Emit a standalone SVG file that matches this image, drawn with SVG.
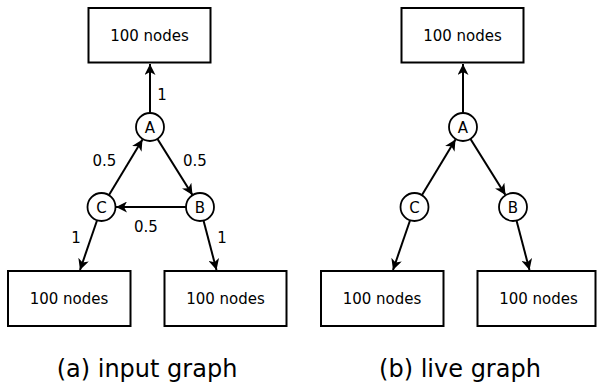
<svg xmlns="http://www.w3.org/2000/svg" width="597" height="384" viewBox="0 0 597 384">
<style>
.box{fill:#fff;stroke:#000;stroke-width:2}
.node{fill:#fff;stroke:#000;stroke-width:1.8}
.edge{fill:none;stroke:#000;stroke-width:2;marker-end:url(#arr)}
text{font-family:"DejaVu Sans",Verdana,sans-serif;fill:#000}
.t{font-size:15px;text-anchor:middle}
.cap{font-size:24px;text-anchor:middle}
</style>
<defs>
<marker id="arr" markerWidth="13" markerHeight="11" refX="11" refY="5.5" orient="auto" markerUnits="userSpaceOnUse">
<path d="M0,0 L11,5.5 L0,11 L3,5.5 Z" fill="#000"/>
</marker>
</defs>
<g id="connectors">
<line class="edge" x1="150" y1="113" x2="150" y2="64"/>
<line class="edge" x1="109" y1="195" x2="142.5" y2="139.5"/>
<line class="edge" x1="157.5" y1="139" x2="192.5" y2="195"/>
<line class="edge" x1="186" y1="207" x2="116" y2="207"/>
<line class="edge" x1="97" y1="220.5" x2="80" y2="270"/>
<line class="edge" x1="203.5" y1="220.5" x2="216.5" y2="270"/>
<line class="edge" x1="463" y1="113" x2="463" y2="64"/>
<line class="edge" x1="422" y1="195" x2="455.5" y2="139.5"/>
<line class="edge" x1="470.5" y1="139" x2="505.5" y2="195"/>
<line class="edge" x1="410" y1="220.5" x2="393" y2="270"/>
<line class="edge" x1="516.5" y1="220.5" x2="529.5" y2="270"/>
</g>
<g id="labels">
<text class="t" x="162" y="100">1</text>
<text class="t" x="104.5" y="166">0.5</text>
<text class="t" x="195" y="166">0.5</text>
<text class="t" x="146" y="232">0.5</text>
<text class="t" x="76" y="243">1</text>
<text class="t" x="222" y="243">1</text>
</g>
<g id="a-top"><rect class="box" x="88.5" y="8" width="122" height="54.5"/><text class="t" x="149.5" y="41">100 nodes</text></g>
<g id="a-A"><circle class="node" cx="150" cy="127" r="14"/><text class="t" x="150" y="132.5">A</text></g>
<g id="a-B"><circle class="node" cx="200" cy="207" r="14"/><text class="t" x="200" y="212.5">B</text></g>
<g id="a-C"><circle class="node" cx="101.5" cy="207" r="14"/><text class="t" x="101.5" y="212.5">C</text></g>
<g id="a-left"><rect class="box" x="8" y="271" width="122.5" height="55"/><text class="t" x="69" y="304">100 nodes</text></g>
<g id="a-right"><rect class="box" x="164.5" y="271" width="122" height="55"/><text class="t" x="225.5" y="304">100 nodes</text></g>
<g id="b-top"><rect class="box" x="401.5" y="8" width="122" height="54.5"/><text class="t" x="462.5" y="41">100 nodes</text></g>
<g id="b-A"><circle class="node" cx="463" cy="127" r="14"/><text class="t" x="463" y="132.5">A</text></g>
<g id="b-B"><circle class="node" cx="513" cy="207" r="14"/><text class="t" x="513" y="212.5">B</text></g>
<g id="b-C"><circle class="node" cx="414.5" cy="207" r="14"/><text class="t" x="414.5" y="212.5">C</text></g>
<g id="b-left"><rect class="box" x="321" y="271" width="122.5" height="55"/><text class="t" x="382" y="304">100 nodes</text></g>
<g id="b-right"><rect class="box" x="477.5" y="271" width="118" height="55"/><text class="t" x="538.5" y="304">100 nodes</text></g>
<text class="cap" x="147" y="377">(a) input graph</text>
<text class="cap" x="460" y="377">(b) live graph</text>
</svg>
